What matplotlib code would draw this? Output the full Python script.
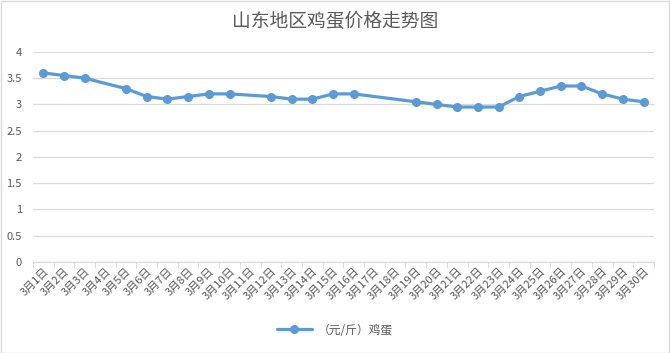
import matplotlib
matplotlib.use("Agg")
import matplotlib.pyplot as plt
import numpy as np

plt.rcParams['font.family'] = ['Noto Sans CJK SC', 'DejaVu Sans']

# 数据 (空缺日期为 None)
days = list(range(1, 31))
labels = ["3月%d日" % d for d in days]
prices = [3.6, 3.55, 3.5, None, 3.3, 3.15, 3.1, 3.15, 3.2, 3.2,
          None, 3.15, 3.1, 3.1, 3.2, 3.2, None, None, 3.05, 3.0,
          2.95, 2.95, 2.95, 3.15, 3.25, 3.35, 3.35, 3.2, 3.1, 3.05]
yticks = [0, 0.5, 1, 1.5, 2, 2.5, 3, 3.5, 4]

blue = "#5B9BD5"
grey = "#595959"

fig = plt.figure(figsize=(6.7, 3.53), dpi=100)
fig.patches.append(plt.Rectangle((0.001, 0.001), 0.998, 0.997, transform=fig.transFigure,
                                 fill=False, edgecolor="#d9d9d9", linewidth=1))
ax = fig.add_axes([0.049, 0.258, 0.927, 0.595])

# 连接空缺点
xs = [d for d, p in zip(days, prices) if p is not None]
ys = [p for p in prices if p is not None]
ax.plot(xs, ys, color=blue, linewidth=2.3, marker="o", markersize=5.5,
        label="（元/斤）鸡蛋", solid_capstyle="round")

ax.set_xlim(0.5, 30.5)
ax.set_ylim(0, 4)
ax.set_yticks(yticks)
ax.set_yticklabels([("%g" % v) for v in yticks], fontsize=8, color=grey)
ax.yaxis.grid(True, color="#d9d9d9", linewidth=0.9)
ax.set_axisbelow(True)
ax.tick_params(axis="y", length=0, pad=8)

ax.set_xticks(days)
ax.set_xticklabels(labels, rotation=45, ha="right", rotation_mode="anchor",
                   fontsize=8, color=grey)
ax.tick_params(axis="x", which="major", length=0, pad=3)
ax.set_xticks(np.arange(0.5, 31, 1), minor=True)
ax.tick_params(axis="x", which="minor", length=4, color="#d9d9d9", direction="out")

for s in ["top", "right", "left"]:
    ax.spines[s].set_visible(False)
ax.spines["bottom"].set_color("#d9d9d9")
ax.spines["bottom"].set_linewidth(0.9)

fig.text(0.5, 0.94, "山东地区鸡蛋价格走势图", ha="center", va="center",
         fontsize=13.5, color=grey)

fig.legend(loc="center", bbox_to_anchor=(0.5, 0.065), frameon=False,
           fontsize=8.5, labelcolor=grey, handlelength=3.0, handletextpad=0.5)

fig.savefig("out.png", dpi=100)
